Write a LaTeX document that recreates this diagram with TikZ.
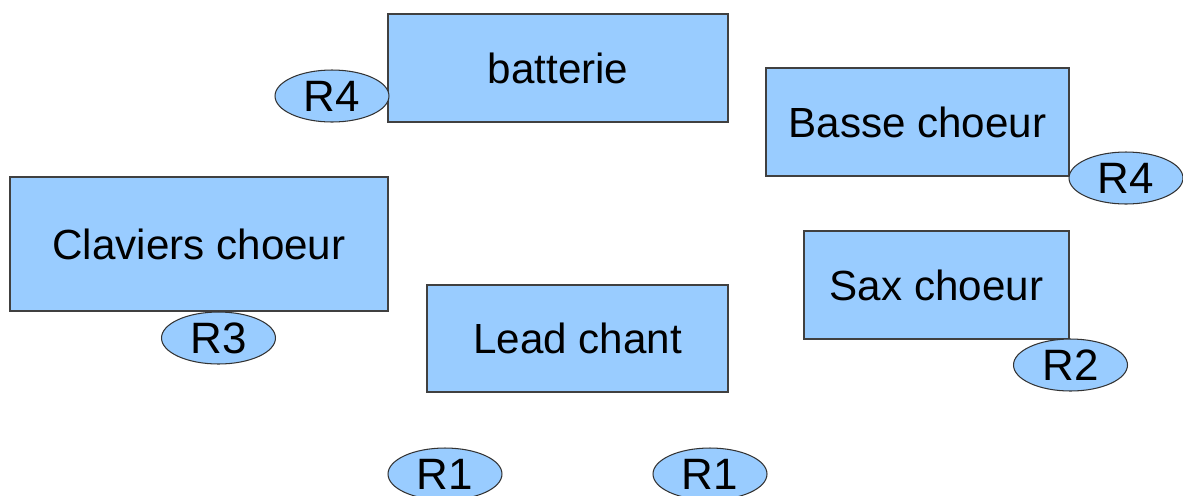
\documentclass[tikz,border=0pt]{standalone}
\usepackage{fontspec}
\setmainfont{Liberation Sans}
\usetikzlibrary{shapes.geometric}
\begin{document}
\begin{tikzpicture}[x=0.02cm,y=-0.02cm]
        \tikzset{
            box/.style args={#1:#2}{
              draw=black!75, fill=lblue, line width=0.6pt, inner sep=0pt,
              minimum width=#1*0.02cm, minimum height=#2*0.02cm,
              font=\fontsize{24}{28}\selectfont
            },
            ring/.style={
              ellipse, draw=black!80, fill=lblue, line width=0.6pt, inner sep=0pt,
              minimum width=2.28cm, minimum height=1.04cm,
              font=\fontsize{25}{29}\selectfont
            }
          }
        \definecolor{lblue}{HTML}{99CCFF}
        \useasboundingbox (0,0) rectangle (1183,495);

        \node[box=340:108] (batterie) at (558,68) {batterie};
        \node[box=303:108] (basse) at (917.5,122) {Basse choeur};
        \node[box=378:134] (claviers) at (199,244) {Claviers choeur};
        \node[box=265:108] (sax) at (936.5,285) {Sax choeur};
        \node[box=301:107] (lead) at (577.5,338.5) {Lead chant};

        \node[ring] (rbatterie) at (332,96) {R4};
        \node[ring] (rbasse) at (1126,178) {R4};
        \node[ring] (rclaviers) at (218.5,338) {R3};
        \node[ring] (rsax) at (1070.5,365) {R2};
        \node[ring] (rleada) at (445,474) {R1};
        \node[ring] (rleadb) at (710,474) {R1};
    \end{tikzpicture}
\end{document}
